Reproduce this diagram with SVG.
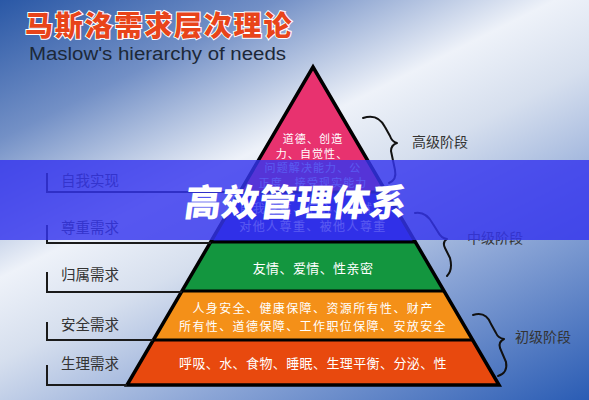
<svg xmlns="http://www.w3.org/2000/svg" width="589" height="400" viewBox="0 0 589 400">
<defs>
<linearGradient id="bg" gradientUnits="userSpaceOnUse" x1="0" y1="0" x2="278" y2="556">
<stop offset="0" stop-color="#2a58a6"/>
<stop offset="0.2" stop-color="#7390c6"/>
<stop offset="0.4" stop-color="#eef2f9"/>
<stop offset="0.52" stop-color="#d6dfee"/>
<stop offset="0.72" stop-color="#8ba5d6"/>
<stop offset="1" stop-color="#2a5cb4"/>
</linearGradient>
<style>
.lbl{font-family:"Noto Sans CJK SC","Noto Sans",sans-serif;font-size:14.5px;fill:#333;}
.stage{font-family:"Noto Sans CJK SC","Noto Sans",sans-serif;font-size:14px;fill:#333;}
.in{font-family:"Noto Sans CJK SC","Noto Sans",sans-serif;font-size:13px;fill:#fff;text-anchor:middle;letter-spacing:0.4px;}
.two{font-size:12px;letter-spacing:1.4px;}
.pk{font-size:11px;letter-spacing:1.1px;}
.ln{fill:none;stroke:#1a1a1a;stroke-width:2;}
.br{fill:none;stroke:#111;stroke-width:2;stroke-linecap:round;stroke-linejoin:round;}
.sep{stroke:#000;stroke-width:3;}
</style>
</defs>
<rect width="589" height="400" fill="url(#bg)"/>

<g id="title">
<text x="25" y="36" font-family="Noto Sans CJK SC,sans-serif" font-size="28" font-weight="900" letter-spacing="1.8" fill="#e8441a" stroke="#fff" stroke-width="2" paint-order="stroke">马斯洛需求层次理论</text>
<text x="29" y="60" font-family="Liberation Sans,Arial,sans-serif" font-size="18" fill="#1c2838" textLength="257" lengthAdjust="spacingAndGlyphs">Maslow's hierarchy of needs</text>
</g>

<g id="pyramid">
<g id="layer-self">
<polygon points="313,67 386.1,192 239.9,192" fill="#e8326f"/>
<text class="in pk" x="313" y="143">道德、创造</text>
<text class="in pk" x="312" y="157.5">力、自觉性、</text>
<text class="in pk" x="313" y="172">问题解决能力、公</text>
<text class="in pk" x="313" y="186.5">正度、接受现实能力</text>
</g>
<g id="layer-esteem">
<polygon points="239.9,192 386.1,192 415.4,242 210.6,242" fill="#2020cc"/>
<text class="in two" x="313" y="213">自我尊重、信心、成就、</text>
<text class="in two" x="313" y="231">对他人尊重、被他人尊重</text>
</g>
<g id="layer-love">
<polygon points="210.6,242 415.4,242 444,291 182,291" fill="#13963f"/>
<text class="in" x="313" y="273">友情、爱情、性亲密</text>
</g>
<g id="layer-safety">
<polygon points="182,291 444,291 472.7,340 153.3,340" fill="#f49018"/>
<text class="in two" x="313" y="313">人身安全、健康保障、资源所有性、财产</text>
<text class="in two" x="313" y="331">所有性、道德保障、工作职位保障、安放安全</text>
</g>
<g id="layer-phys">
<polygon points="153.3,340 472.7,340 499,385 127,385" fill="#e8490e"/>
<text class="in" x="313" y="368">呼吸、水、食物、睡眠、生理平衡、分泌、性</text>
</g>
<line class="sep" x1="239.9" y1="192" x2="386.1" y2="192"/>
<line class="sep" x1="210.6" y1="242" x2="415.4" y2="242"/>
<line class="sep" x1="182" y1="291" x2="444" y2="291"/>
<line class="sep" x1="153.3" y1="340" x2="472.7" y2="340"/>
<polygon points="313,67 499,385 127,385" fill="none" stroke="#000" stroke-width="3.5" stroke-linejoin="miter"/>
</g>

<g id="connectors">
<path class="ln" d="M47,173 V192 H240"/>
<path class="ln" d="M47,225 V243 H211"/>
<path class="ln" d="M47,272 V292 H182"/>
<path class="ln" d="M47,322 V340 H153"/>
<path class="ln" d="M47,365 V385 H127"/>
<path class="br" d="M363,118 Q378,113 385,127 L390,136 Q392,142 397,143 Q391,145 391,151 L395,170 Q397,180 389,183"/>
<path class="br" d="M415,213 Q426,211 433,224 L438,232 Q441,238 447,239 Q442,242 445,248 L450,258 Q453,270 447,276"/>
<path class="br" d="M473,315 Q486,311 491,324 L496,333 Q498,338 504,339 Q498,342 500,348 L506,362 Q508,373 498,376"/>
</g>

<g id="labels">
<text class="lbl" x="61" y="186">自我实现</text>
<text class="lbl" x="61" y="233">尊重需求</text>
<text class="lbl" x="61" y="280">归属需求</text>
<text class="lbl" x="61" y="330">安全需求</text>
<text class="lbl" x="61" y="369">生理需求</text>
<text class="stage" x="412" y="147">高级阶段</text>
<text class="stage" x="467" y="243">中级阶段</text>
<text class="stage" x="515" y="342">初级阶段</text>
</g>

<g id="banner">
<rect x="0" y="160" width="589" height="80" fill="#3434ee" opacity="0.82"/>
<text transform="translate(294,216) skewX(-8)" x="0" y="0" text-anchor="middle" font-family="Noto Sans CJK SC,sans-serif" font-size="37" font-weight="900" fill="#fff">高效管理体系</text>
</g>
</svg>
